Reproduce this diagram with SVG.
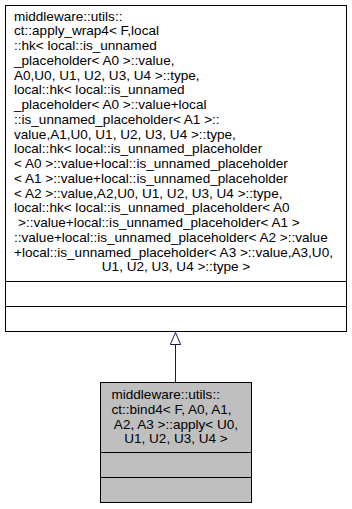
<svg xmlns="http://www.w3.org/2000/svg" width="352" height="509" viewBox="0 0 352 509">
  <style>
    .box { stroke: #000; stroke-width: 1; }
    .lbl { font-family: "Liberation Sans", Arial, Helvetica, sans-serif; font-size: 13.55px; fill: #000; }
    .mid { text-anchor: middle; }
    .edge { stroke: #191970; stroke-width: 1; fill: none; }
  </style>
  <defs>
    <!-- hollow triangle for the generalisation arrow, pointing along +x -->
    <marker id="inherit" viewBox="0 0 14 12" refX="13" refY="6" markerWidth="14" markerHeight="12" markerUnits="userSpaceOnUse" orient="auto">
      <polygon points="13,6 1,0.8 1,11.2" fill="#fff" stroke="#191970" stroke-width="1"/>
    </marker>
  </defs>

  <!-- base class: apply_wrap4 -->
  <g id="node_apply_wrap4">
    <rect class="box" x="5.5" y="5.5" width="341" height="326" fill="#fff"/>
    <line class="box" x1="5.5" y1="281.5" x2="346.5" y2="281.5"/>
    <line class="box" x1="5.5" y1="306.5" x2="346.5" y2="306.5"/>
    <g class="lbl">
      <text x="14" y="20.5">middleware::utils::</text>
      <text x="14" y="35.3">ct::apply_wrap4&lt; F,local</text>
      <text x="14" y="50">::hk&lt; local::is_unnamed</text>
      <text x="14" y="64.8">_placeholder&lt; A0 &gt;::value,</text>
      <text x="14" y="79.5">A0,U0, U1, U2, U3, U4 &gt;::type,</text>
      <text x="14" y="94.3">local::hk&lt; local::is_unnamed</text>
      <text x="14" y="109.1">_placeholder&lt; A0 &gt;::value+local</text>
      <text x="14" y="123.8">::is_unnamed_placeholder&lt; A1 &gt;::</text>
      <text x="14" y="138.6">value,A1,U0, U1, U2, U3, U4 &gt;::type,</text>
      <text x="14" y="153.3">local::hk&lt; local::is_unnamed_placeholder</text>
      <text x="14" y="168.1">&lt; A0 &gt;::value+local::is_unnamed_placeholder</text>
      <text x="14" y="182.9">&lt; A1 &gt;::value+local::is_unnamed_placeholder</text>
      <text x="14" y="197.6">&lt; A2 &gt;::value,A2,U0, U1, U2, U3, U4 &gt;::type,</text>
      <text x="14" y="212.4">local::hk&lt; local::is_unnamed_placeholder&lt; A0</text>
      <text x="18" y="227.1">&gt;::value+local::is_unnamed_placeholder&lt; A1 &gt;</text>
      <text x="14" y="241.9">::value+local::is_unnamed_placeholder&lt; A2 &gt;::value</text>
      <text x="14" y="256.7">+local::is_unnamed_placeholder&lt; A3 &gt;::value,A3,U0,</text>
      <text class="mid" x="176" y="271.4">U1, U2, U3, U4 &gt;::type &gt;</text>
    </g>
  </g>

  <!-- derived class: bind4::apply -->
  <g id="node_bind4_apply">
    <rect class="box" x="100.5" y="382.5" width="151" height="120" fill="#bfbfbf"/>
    <line class="box" x1="100.5" y1="452.5" x2="251.5" y2="452.5"/>
    <line class="box" x1="100.5" y1="477.5" x2="251.5" y2="477.5"/>
    <g class="lbl">
      <text x="111.5" y="399">middleware::utils::</text>
      <text x="111.5" y="413.8">ct::bind4&lt; F, A0, A1,</text>
      <text class="mid" x="176" y="428.5">A2, A3 &gt;::apply&lt; U0,</text>
      <text class="mid" x="176" y="443.3">U1, U2, U3, U4 &gt;</text>
    </g>
  </g>

  <!-- inheritance connector -->
  <g id="edges">
    <path class="edge" d="M175.5,382 L175.5,332.5" marker-end="url(#inherit)"/>
  </g>
</svg>
